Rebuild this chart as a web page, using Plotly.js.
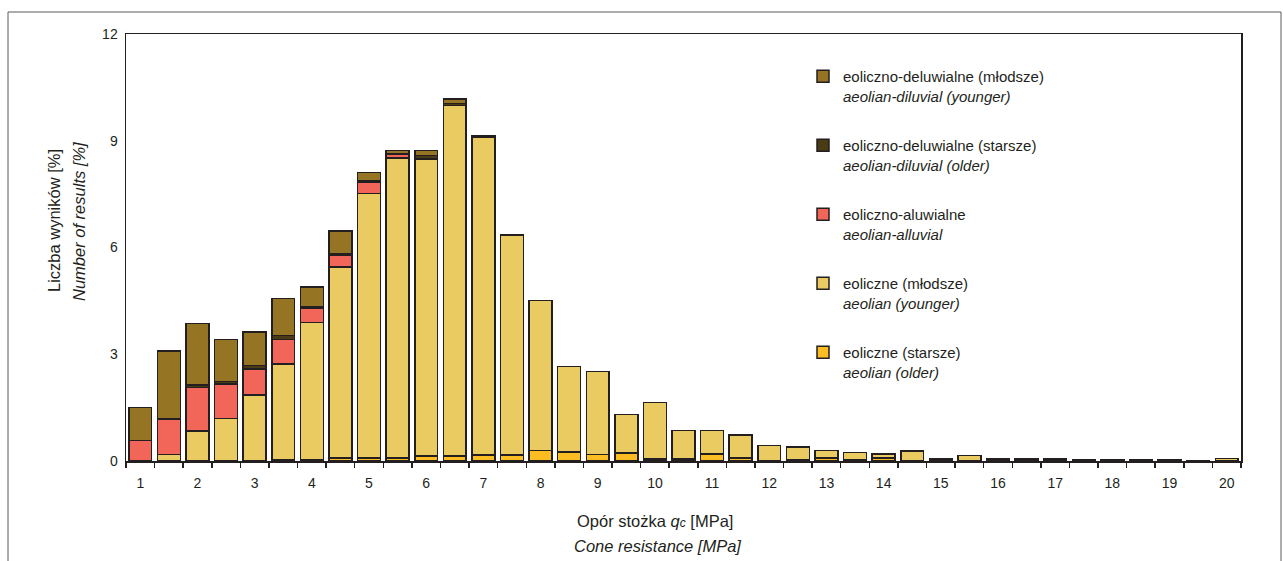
<!DOCTYPE html>
<html>
<head>
<meta charset="utf-8">
<script src="https://cdn.plot.ly/plotly-3.0.1.min.js"></script>
<style>html,body{margin:0;padding:0;background:#fff;}#chart{width:1283px;height:561px;}</style>
</head>
<body>
<div id="chart"></div>
<script>
// Cone resistance class centres [MPa]
const qc = [1,1.5,2,2.5,3,3.5,4,4.5,5,5.5,6,6.5,7,7.5,8,8.5,9,9.5,10,10.5,11,11.5,12,12.5,13,13.5,14,14.5,15,15.5,16,16.5,17,17.5,18,18.5,19,19.5,20];
const tickLabels = ['1','2','3','4','5','6','7','8','9','10','11','12','13','14','15','16','17','18','19','20'];
const tickPositions = [1,2,3,4,5,6,7,8,9,10,11,12,13,14,15,16,17,18,19,20];

// Share of results [%] per deposit type (stacked bottom -> top)
const eoliczneStarsze = [0,0,0,0,0,0.03,0.04,0.08,0.08,0.08,0.14,0.14,0.17,0.17,0.30,0.26,0.18,0.23,0.05,0.06,0.20,0.08,0.02,0.04,0.08,0.04,0.08,0,0,0,0,0,0,0,0,0,0,0,0];
const eoliczneMlodsze = [0,0.18,0.84,1.20,1.85,2.69,3.85,5.37,7.44,8.44,8.35,9.85,8.93,6.17,4.21,2.39,2.34,1.07,1.59,0.80,0.66,0.65,0.41,0.35,0.22,0.20,0.11,0.28,0.06,0.16,0.05,0.06,0.06,0.04,0.04,0.04,0.04,0.02,0.07];
const eolicznoAluwialne = [0.57,0.98,1.22,0.97,0.74,0.69,0.41,0.32,0.32,0.10,0,0,0,0,0,0,0,0,0,0,0,0,0,0,0,0,0,0,0,0,0,0,0,0,0,0,0,0,0];
const eolicznoDeluwialneStarsze = [0,0.03,0.07,0.07,0.09,0.12,0.03,0.05,0.05,0.02,0.10,0.06,0.03,0.02,0,0,0,0,0,0,0,0,0,0,0,0,0,0,0,0,0,0,0,0,0,0,0,0,0];
const eolicznoDeluwialneMlodsze = [0.93,1.90,1.74,1.17,0.94,1.03,0.56,0.65,0.22,0.09,0.14,0.12,0,0,0,0,0,0,0,0,0,0,0,0,0,0,0,0,0,0,0,0,0,0,0,0,0,0,0];

const seriesNames = [
  'eoliczne (starsze)<br><i>aeolian (older)</i>',
  'eoliczne (młodsze)<br><i>aeolian (younger)</i>',
  'eoliczno-aluwialne<br><i>aeolian-alluvial</i>',
  'eoliczno-deluwialne (starsze)<br><i>aeolian-diluvial (older)</i>',
  'eoliczno-deluwialne (młodsze)<br><i>aeolian-diluvial (younger)</i>'
];
const seriesValues = [eoliczneStarsze, eoliczneMlodsze, eolicznoAluwialne, eolicznoDeluwialneStarsze, eolicznoDeluwialneMlodsze];
const colors = ['#FBBD22','#E9CB62','#F2665A','#4B3B15','#957424'];

const FONT = 'Liberation Sans, Arial, Helvetica, sans-serif';
const INK = '#231f20';

const traces = seriesValues.map((vals, i) => ({
  type: 'bar',
  x: qc,
  y: vals,
  name: seriesNames[i],
  legendgroup: 'g' + i,
  legendrank: 1000 + (seriesValues.length - i),
  width: 0.4,
  marker: {color: colors[i], line: {color: INK, width: 1.5}},
  hoverinfo: 'skip'
}));

const L = 126, R = 1241, T = 34, B = 461;
const W = R - L, H = B - T;
const px = v => (v - L) / W;
const py = v => (B - v) / H;

const layout = {
  width: 1283, height: 561,
  margin: {l: L, r: 1283 - R, t: T, b: 561 - B},
  paper_bgcolor: '#fff', plot_bgcolor: '#fff',
  barmode: 'stack',
  bargap: 0,
  font: {family: FONT, color: INK, size: 14},
  showlegend: true,
  legend: {
    x: px(803), xanchor: 'left', y: py(60), yanchor: 'top',
    traceorder: 'grouped', tracegroupgap: 27, valign: 'top',
    font: {family: FONT, size: 15, color: INK},
    bgcolor: 'rgba(0,0,0,0)', borderwidth: 0
  },
  xaxis: {
    range: [0.75, 20.25],
    tickmode: 'array', tickvals: tickPositions, ticktext: tickLabels,
    ticks: '', showgrid: false, zeroline: false,
    showline: true, linecolor: INK, linewidth: 1.5, mirror: true,
    tickfont: {family: FONT, size: 14, color: INK},
    ticklabelstandoff: 9,
    minor: {tick0: 0.75, dtick: 0.5, ticks: 'outside', ticklen: 5, tickwidth: 1.5, tickcolor: INK, showgrid: false},
    fixedrange: true
  },
  yaxis: {
    range: [0, 12],
    tickmode: 'array', tickvals: [0,3,6,9,12],
    ticks: '', showgrid: false, zeroline: false,
    showline: true, linecolor: INK, linewidth: 1.5, mirror: true,
    tickfont: {family: FONT, size: 14, color: INK},
    ticklabelstandoff: 4,
    fixedrange: true
  },
  annotations: [
    {
      xref: 'paper', yref: 'paper', x: px(654.5), y: py(521),
      xanchor: 'center', yanchor: 'middle', showarrow: false,
      text: 'Opór stożka <i>q<span style="font-size:12px">c</span></i> [MPa]',
      font: {family: FONT, size: 16.5, color: INK}
    },
    {
      xref: 'paper', yref: 'paper', x: px(657), y: py(546),
      xanchor: 'center', yanchor: 'middle', showarrow: false,
      text: '<i>Cone resistance [MPa]</i>',
      font: {family: FONT, size: 16.5, color: INK}
    },
    {
      xref: 'paper', yref: 'paper', x: px(54), y: py(221),
      xanchor: 'center', yanchor: 'middle', showarrow: false, textangle: -90,
      text: 'Liczba wyników [%]',
      font: {family: FONT, size: 16.5, color: INK}
    },
    {
      xref: 'paper', yref: 'paper', x: px(79), y: py(222),
      xanchor: 'center', yanchor: 'middle', showarrow: false, textangle: -90,
      text: '<i>Number of results [%]</i>',
      font: {family: FONT, size: 16.5, color: INK}
    }
  ],
  shapes: [
    {type: 'rect', xref: 'paper', yref: 'paper', x0: px(8), x1: px(1281), y0: py(575), y1: py(12),
     line: {color: '#5a5a5a', width: 1}, fillcolor: 'rgba(0,0,0,0)', layer: 'below'}
  ]
};

Plotly.newPlot('chart', traces, layout, {staticPlot: true, displayModeBar: false});
</script>
</body>
</html>
